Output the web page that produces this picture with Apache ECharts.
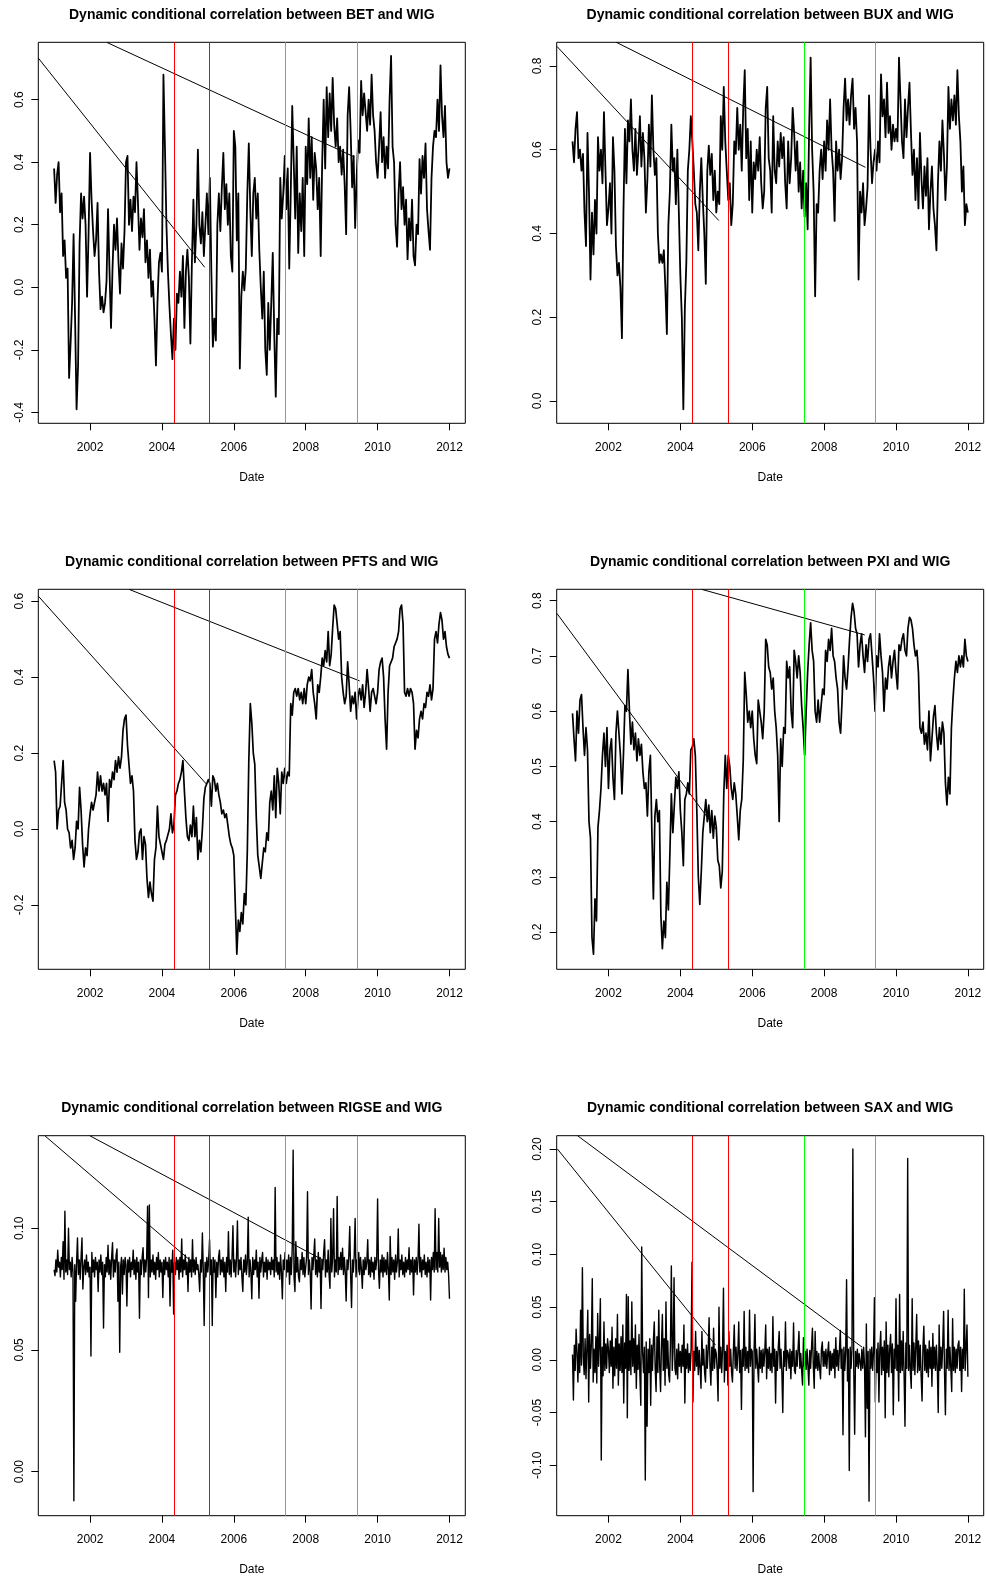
<!DOCTYPE html>
<html><head><meta charset="utf-8">
<script src="https://cdn.jsdelivr.net/npm/echarts@6/dist/echarts.min.js"></script>
<style>html,body{margin:0;padding:0;background:#fff}#c{width:986px;height:1577px}</style>
</head><body><div id="c"></div>
<script>
// ---------- DATA ----------
const xTicks = [2002, 2004, 2006, 2008, 2010, 2012];
const firstYear = 2001;
const eventDates = [2004.33, 2005.33, 2007.44, 2009.43];
const eventColors = ['#ff0000', '#ff0000', '#00ff00', '#00ff00'];

const titles = [
  'Dynamic conditional correlation between BET and WIG',
  'Dynamic conditional correlation between BUX and WIG',
  'Dynamic conditional correlation between PFTS and WIG',
  'Dynamic conditional correlation between PXI and WIG',
  'Dynamic conditional correlation between RIGSE and WIG',
  'Dynamic conditional correlation between SAX and WIG'
];

// 24 readings per year (2001..2011) + final value
const betValues = [
 0.38,0.27,0.36,0.40,0.24,0.30,0.10,0.15,0.03,0.06,-0.29,-0.18,-0.05,0.17,-0.10,-0.39,-0.25,0.14,0.30,0.22,0.29,0.20,-0.03,0.17,
 0.43,0.28,0.18,0.10,0.15,0.27,0.05,-0.07,-0.03,-0.08,-0.05,0.02,0.25,0.05,-0.13,0.06,0.20,0.12,0.22,0.08,-0.02,0.14,0.06,0.18,
 0.40,0.42,0.20,0.28,0.18,0.29,0.24,0.40,0.27,0.12,0.22,0.16,0.25,0.08,0.15,0.03,0.12,-0.03,0.02,-0.10,-0.25,-0.05,0.08,0.11,
 0.05,0.68,0.45,0.20,0.05,-0.06,-0.15,-0.23,-0.10,-0.20,-0.02,-0.05,0.05,-0.03,0.10,-0.13,0.05,0.12,0.03,-0.18,0.08,0.28,0.08,0.20,
 0.44,0.20,0.14,0.24,0.10,0.20,0.30,0.17,0.35,0.05,-0.19,-0.10,-0.17,0.20,0.30,0.18,0.32,0.43,0.25,0.33,0.20,0.30,0.10,0.05,
 0.50,0.45,0.15,0.30,-0.26,-0.03,0.05,-0.01,0.06,0.30,0.46,0.25,0.10,0.30,0.35,0.22,0.30,0.12,0.00,-0.10,0.05,-0.20,-0.28,-0.05,
 -0.20,-0.05,0.11,-0.15,-0.35,-0.10,-0.15,0.35,0.22,0.30,0.42,0.25,0.38,0.06,0.30,0.58,0.40,0.22,0.45,0.11,0.30,0.18,0.35,0.10,
 0.45,0.33,0.54,0.35,0.48,0.28,0.43,0.38,0.25,0.35,0.10,0.40,0.60,0.38,0.64,0.48,0.62,0.50,0.67,0.52,0.45,0.54,0.40,0.45,
 0.36,0.44,0.33,0.17,0.55,0.64,0.50,0.32,0.42,0.19,0.35,0.47,0.43,0.66,0.55,0.62,0.56,0.50,0.60,0.52,0.68,0.55,0.50,0.40,
 0.35,0.45,0.56,0.40,0.48,0.35,0.45,0.38,0.60,0.74,0.45,0.40,0.20,0.13,0.30,0.40,0.25,0.32,0.20,0.28,0.09,0.22,0.15,0.28,
 0.10,0.07,0.20,0.17,0.41,0.30,0.42,0.35,0.46,0.25,0.18,0.12,0.35,0.45,0.50,0.48,0.60,0.50,0.71,0.55,0.48,0.58,0.40,0.35,
 0.38
];
const buxValues = [
 0.62,0.57,0.65,0.69,0.58,0.60,0.55,0.59,0.45,0.37,0.64,0.50,0.29,0.45,0.35,0.48,0.40,0.63,0.55,0.60,0.52,0.69,0.55,0.42,
 0.46,0.52,0.40,0.63,0.55,0.37,0.30,0.33,0.27,0.15,0.45,0.65,0.52,0.67,0.62,0.72,0.60,0.55,0.65,0.54,0.60,0.68,0.56,0.64,
 0.58,0.45,0.53,0.66,0.56,0.73,0.60,0.54,0.58,0.40,0.33,0.35,0.33,0.36,0.27,0.16,0.42,0.50,0.66,0.55,0.58,0.47,0.60,0.45,
 0.30,0.20,-0.02,0.22,0.33,0.55,0.60,0.68,0.62,0.55,0.47,0.45,0.36,0.50,0.58,0.48,0.40,0.28,0.55,0.61,0.54,0.59,0.48,0.55,
 0.45,0.50,0.47,0.68,0.60,0.75,0.62,0.55,0.48,0.52,0.42,0.47,0.62,0.59,0.70,0.60,0.66,0.55,0.70,0.79,0.58,0.65,0.48,0.62,
 0.45,0.57,0.53,0.60,0.55,0.63,0.52,0.46,0.50,0.70,0.75,0.58,0.55,0.45,0.68,0.55,0.52,0.62,0.56,0.64,0.58,0.63,0.52,0.46,
 0.62,0.52,0.58,0.70,0.64,0.55,0.62,0.50,0.57,0.46,0.55,0.44,0.52,0.41,0.65,0.82,0.60,0.50,0.25,0.47,0.45,0.55,0.60,0.53,
 0.62,0.55,0.67,0.60,0.72,0.60,0.55,0.43,0.62,0.55,0.60,0.53,0.58,0.70,0.77,0.67,0.72,0.66,0.73,0.77,0.65,0.70,0.62,0.29,
 0.50,0.45,0.52,0.42,0.46,0.51,0.73,0.60,0.52,0.57,0.60,0.55,0.62,0.57,0.78,0.68,0.72,0.63,0.76,0.64,0.68,0.60,0.66,0.62,
 0.65,0.62,0.82,0.72,0.62,0.58,0.72,0.63,0.70,0.76,0.64,0.54,0.60,0.48,0.58,0.46,0.64,0.53,0.46,0.56,0.49,0.58,0.41,0.50,
 0.56,0.46,0.42,0.36,0.52,0.62,0.55,0.67,0.59,0.48,0.56,0.75,0.65,0.72,0.67,0.73,0.66,0.79,0.68,0.62,0.50,0.56,0.42,0.47,
 0.45
];
const pftsValues = [
 0.18,0.15,0.00,0.05,0.06,0.12,0.18,0.07,0.05,0.00,-0.01,-0.05,-0.03,-0.08,-0.05,0.02,0.00,0.11,0.05,-0.04,-0.10,-0.05,-0.07,0.00,
 0.04,0.07,0.05,0.07,0.09,0.15,0.10,0.14,0.10,0.12,0.09,0.12,0.02,0.13,0.11,0.15,0.13,0.18,0.15,0.19,0.16,0.19,0.26,0.29,
 0.30,0.22,0.17,0.12,0.14,0.10,-0.03,-0.08,-0.06,-0.01,0.00,-0.08,-0.02,-0.04,-0.13,-0.18,-0.14,-0.17,-0.19,-0.08,-0.05,0.06,-0.02,-0.04,
 -0.06,-0.08,-0.04,-0.03,-0.03,0.00,0.04,-0.01,0.01,0.09,0.10,0.12,0.13,0.15,0.18,0.10,0.03,-0.02,-0.03,0.01,-0.02,0.06,-0.02,0.03,
 -0.08,-0.03,-0.06,0.00,0.08,0.11,0.12,0.13,0.12,0.06,0.14,0.13,0.10,0.12,0.09,0.07,0.04,0.05,0.03,0.04,0.01,-0.02,-0.04,-0.05,
 -0.07,-0.20,-0.33,-0.24,-0.27,-0.22,-0.25,-0.17,-0.20,-0.06,0.18,0.33,0.28,0.20,0.17,0.03,-0.07,-0.10,-0.13,-0.09,-0.05,-0.06,-0.01,-0.03,
 0.07,0.10,0.05,0.14,0.03,0.16,0.12,0.04,0.15,0.12,0.16,0.12,0.15,0.14,0.33,0.30,0.36,0.37,0.35,0.37,0.34,0.36,0.33,0.37,
 0.33,0.38,0.40,0.39,0.42,0.36,0.33,0.29,0.38,0.36,0.40,0.45,0.43,0.47,0.44,0.52,0.43,0.46,0.53,0.59,0.58,0.58,0.50,0.52,
 0.40,0.36,0.33,0.35,0.44,0.38,0.31,0.35,0.33,0.36,0.29,0.35,0.37,0.34,0.38,0.32,0.36,0.42,0.37,0.31,0.36,0.37,0.35,0.33,
 0.36,0.42,0.44,0.45,0.40,0.29,0.21,0.36,0.43,0.44,0.45,0.48,0.49,0.50,0.52,0.58,0.59,0.54,0.36,0.35,0.37,0.35,0.37,0.36,
 0.33,0.21,0.26,0.24,0.29,0.31,0.29,0.33,0.32,0.36,0.35,0.38,0.34,0.37,0.50,0.52,0.49,0.54,0.57,0.55,0.50,0.52,0.48,0.46,
 0.45
];
const pxiValues = [
 0.596,0.55,0.51,0.60,0.56,0.62,0.63,0.57,0.52,0.57,0.53,0.40,0.37,0.19,0.16,0.26,0.22,0.39,0.42,0.46,0.52,0.56,0.50,0.57,
 0.46,0.53,0.55,0.48,0.44,0.56,0.60,0.60,0.52,0.45,0.52,0.61,0.60,0.675,0.60,0.54,0.58,0.53,0.56,0.51,0.55,0.52,0.54,0.49,
 0.46,0.47,0.41,0.49,0.52,0.38,0.26,0.41,0.44,0.40,0.42,0.23,0.17,0.22,0.19,0.29,0.24,0.34,0.45,0.38,0.43,0.48,0.46,0.49,
 0.42,0.38,0.32,0.44,0.45,0.47,0.45,0.53,0.535,0.55,0.52,0.42,0.30,0.25,0.31,0.38,0.41,0.44,0.40,0.43,0.38,0.42,0.37,0.41,
 0.39,0.33,0.32,0.28,0.31,0.45,0.52,0.46,0.52,0.50,0.46,0.44,0.47,0.45,0.41,0.367,0.42,0.44,0.51,0.67,0.63,0.58,0.60,0.57,
 0.60,0.55,0.52,0.505,0.62,0.60,0.58,0.55,0.60,0.73,0.72,0.68,0.67,0.64,0.66,0.60,0.57,0.52,0.40,0.55,0.50,0.57,0.56,0.69,
 0.66,0.68,0.60,0.57,0.71,0.69,0.66,0.70,0.67,0.61,0.57,0.52,0.60,0.67,0.72,0.76,0.71,0.69,0.60,0.58,0.62,0.58,0.61,0.64,
 0.63,0.71,0.69,0.73,0.71,0.75,0.70,0.69,0.66,0.64,0.58,0.56,0.62,0.70,0.66,0.64,0.68,0.73,0.77,0.795,0.78,0.75,0.74,0.68,
 0.72,0.74,0.70,0.67,0.72,0.69,0.73,0.74,0.70,0.66,0.60,0.70,0.68,0.74,0.70,0.67,0.60,0.66,0.64,0.68,0.70,0.66,0.69,0.71,
 0.67,0.64,0.72,0.71,0.73,0.74,0.71,0.70,0.75,0.77,0.765,0.75,0.72,0.70,0.71,0.67,0.57,0.56,0.58,0.54,0.56,0.53,0.60,0.51,
 0.55,0.59,0.61,0.56,0.53,0.57,0.54,0.58,0.56,0.47,0.43,0.48,0.45,0.57,0.62,0.66,0.69,0.67,0.70,0.68,0.70,0.68,0.73,0.70,
 0.69
];
// 40 readings per year (2001..2011) + final value
const rigseValues = [
 0.083,0.0805,0.087,0.082,0.091,0.084,0.086,0.080,0.088,0.083,0.0945,0.079,0.107,0.082,0.087,0.081,0.100,0.083,0.086,0.080,
 0.088,0.082,-0.012,0.085,0.070,0.086,0.096,0.081,0.087,0.079,0.088,0.096,0.075,0.084,0.087,0.081,0.089,0.082,0.086,0.080,
 0.084,0.0475,0.090,0.082,0.087,0.080,0.088,0.083,0.086,0.074,0.087,0.082,0.089,0.081,0.086,0.059,0.085,0.080,0.088,0.082,
 0.093,0.081,0.087,0.079,0.088,0.094,0.080,0.087,0.082,0.089,0.0915,0.070,0.086,0.049,0.084,0.088,0.073,0.087,0.081,0.088,
 0.085,0.068,0.087,0.082,0.088,0.080,0.086,0.083,0.091,0.081,0.087,0.079,0.088,0.082,0.086,0.063,0.087,0.081,0.088,0.092,
 0.080,0.087,0.082,0.088,0.109,0.0715,0.1096,0.080,0.087,0.082,0.089,0.081,0.086,0.079,0.088,0.083,0.090,0.080,0.087,0.082,
 0.086,0.0715,0.087,0.081,0.088,0.083,0.086,0.080,0.088,0.068,0.087,0.082,0.091,0.0647,0.086,0.081,0.088,0.083,0.087,0.079,
 0.088,0.082,0.0956,0.080,0.087,0.083,0.089,0.081,0.086,0.074,0.088,0.082,0.087,0.080,0.0953,0.082,0.087,0.081,0.088,0.083,
 0.085,0.081,0.074,0.087,0.082,0.098,0.083,0.060,0.086,0.080,0.088,0.082,0.087,0.0953,0.081,0.087,0.060,0.088,0.082,0.087,
 0.0715,0.086,0.080,0.088,0.091,0.081,0.087,0.082,0.088,0.080,0.086,0.074,0.088,0.082,0.0986,0.081,0.087,0.080,0.088,0.101,
 0.082,0.087,0.080,0.088,0.103,0.081,0.087,0.083,0.088,0.080,0.074,0.087,0.082,0.089,0.081,0.086,0.1045,0.080,0.087,0.082,
 0.071,0.088,0.081,0.087,0.083,0.091,0.080,0.086,0.0712,0.088,0.082,0.087,0.090,0.080,0.086,0.082,0.088,0.079,0.087,0.083,
 0.086,0.081,0.088,0.083,0.087,0.080,0.1167,0.082,0.088,0.081,0.086,0.079,0.089,0.082,0.071,0.087,0.083,0.090,0.080,0.087,
 0.082,0.089,0.077,0.088,0.081,0.092,0.132,0.080,0.074,0.0945,0.082,0.088,0.080,0.078,0.087,0.083,0.090,0.081,0.088,0.080,
 0.084,0.088,0.115,0.081,0.087,0.082,0.0668,0.088,0.083,0.089,0.0956,0.081,0.087,0.080,0.090,0.082,0.088,0.067,0.087,0.083,
 0.090,0.0953,0.080,0.087,0.082,0.091,0.081,0.0753,0.104,0.082,0.088,0.108,0.080,0.087,0.082,0.113,0.081,0.088,0.083,0.090,
 0.083,0.0918,0.081,0.088,0.082,0.0701,0.087,0.083,0.089,0.1007,0.081,0.0674,0.087,0.082,0.089,0.104,0.080,0.087,0.082,0.090,
 0.081,0.088,0.083,0.0753,0.087,0.081,0.088,0.083,0.086,0.0953,0.081,0.087,0.080,0.088,0.082,0.086,0.079,0.088,0.083,0.087,
 0.112,0.083,0.0753,0.087,0.082,0.089,0.080,0.088,0.082,0.087,0.081,0.090,0.083,0.0705,0.0966,0.081,0.088,0.082,0.087,0.079,
 0.089,0.082,0.086,0.0997,0.080,0.087,0.083,0.089,0.081,0.086,0.080,0.088,0.082,0.087,0.083,0.092,0.081,0.087,0.082,0.088,
 0.0726,0.087,0.082,0.088,0.081,0.087,0.1016,0.082,0.088,0.080,0.087,0.083,0.089,0.081,0.086,0.080,0.088,0.082,0.087,0.0705,
 0.088,0.083,0.090,0.082,0.108,0.083,0.090,0.082,0.104,0.084,0.090,0.082,0.089,0.083,0.0918,0.082,0.088,0.083,0.086,0.081,
 0.071
];
const saxValues = [
 0.005,-0.038,0.014,-0.010,0.029,0.008,-0.021,0.015,-0.012,0.047,-0.005,0.0875,0.003,-0.014,0.020,-0.018,0.012,0.047,-0.040,0.024,
 -0.008,0.016,0.077,-0.021,0.010,-0.012,0.022,-0.022,0.044,-0.006,0.018,0.058,-0.095,0.012,-0.015,0.036,-0.010,0.015,-0.008,0.020,
 0.010,-0.012,0.018,-0.006,0.031,-0.027,0.012,-0.015,0.020,-0.008,0.043,-0.024,0.015,-0.010,0.022,-0.012,0.033,-0.041,0.016,-0.008,
 0.062,-0.055,0.060,-0.010,0.018,-0.014,0.055,-0.006,0.020,-0.012,0.033,-0.027,0.014,-0.009,0.024,-0.015,-0.043,0.107,0.008,-0.012,
 0.012,-0.114,0.017,-0.063,0.010,-0.012,0.020,-0.043,0.014,-0.010,0.018,0.036,-0.008,-0.030,0.022,-0.012,0.047,-0.006,-0.030,0.015,
 0.043,-0.010,0.020,-0.024,0.055,-0.008,0.018,-0.014,-0.021,0.016,0.089,-0.010,0.012,0.078,-0.008,-0.014,0.010,-0.018,0.015,-0.006,
 0.008,-0.012,0.014,-0.006,0.033,-0.041,0.010,-0.008,0.015,-0.012,0.006,-0.010,0.012,0.0926,-0.040,0.008,-0.010,0.027,-0.006,0.012,
 -0.014,0.009,-0.008,-0.027,0.027,-0.005,0.010,-0.012,-0.021,0.014,-0.008,0.010,0.040,-0.006,-0.024,0.012,-0.010,0.030,-0.008,0.010,
 0.006,-0.010,-0.039,0.050,-0.008,0.012,-0.012,0.010,0.068,-0.021,0.008,-0.010,0.014,-0.024,0.027,-0.006,0.010,-0.012,-0.021,0.008,
 0.033,-0.008,0.012,-0.010,0.006,0.036,-0.012,0.009,-0.047,0.010,-0.006,0.046,-0.010,0.012,-0.008,0.008,-0.012,0.047,-0.006,0.010,
 0.008,-0.125,0.006,0.043,-0.008,0.010,-0.006,-0.021,0.012,-0.008,0.009,-0.012,0.010,-0.006,0.008,0.033,-0.018,0.010,-0.008,0.012,
 -0.010,0.006,-0.012,0.041,-0.006,0.010,-0.041,0.008,-0.010,0.012,0.027,-0.008,0.010,-0.012,-0.050,0.008,-0.006,0.036,-0.010,0.009,
 0.006,-0.008,0.010,-0.018,0.008,-0.006,0.035,-0.010,-0.013,0.009,-0.006,0.010,0.027,-0.008,0.006,-0.010,-0.024,0.021,-0.006,0.008,
 -0.009,0.010,-0.006,-0.024,0.009,-0.008,0.012,0.030,-0.006,-0.027,0.027,-0.008,0.008,-0.010,0.006,-0.008,-0.018,0.010,0.017,-0.006,
 0.008,-0.006,0.010,-0.008,0.006,0.017,-0.014,0.008,-0.010,0.006,-0.008,0.010,-0.017,0.021,-0.006,0.009,-0.010,0.008,0.028,-0.008,
 0.010,-0.071,0.012,-0.010,0.008,0.076,-0.020,0.010,-0.105,0.012,-0.008,0.010,0.200,-0.010,-0.0705,0.008,-0.006,0.010,-0.008,0.006,
 0.006,-0.010,0.010,-0.008,0.012,-0.006,-0.073,0.034,-0.046,0.008,-0.134,0.010,-0.008,0.012,-0.010,0.008,0.059,-0.040,0.010,-0.012,
 0.016,-0.040,0.010,0.027,-0.014,0.012,-0.010,0.018,-0.055,0.036,-0.012,0.014,-0.016,0.010,0.024,-0.012,0.015,-0.052,0.010,-0.008,
 0.058,-0.010,0.014,-0.039,0.062,-0.012,0.018,-0.010,0.027,-0.014,-0.063,0.016,-0.008,0.191,-0.010,0.014,-0.012,-0.027,0.058,-0.010,
 0.016,-0.014,0.012,0.043,-0.012,0.018,-0.010,0.014,-0.016,-0.039,0.012,0.032,-0.010,0.014,-0.012,0.010,-0.016,0.018,-0.008,0.012,
 -0.025,0.025,-0.008,0.012,-0.010,0.014,-0.008,-0.050,0.033,-0.010,0.012,-0.008,0.014,0.046,-0.012,-0.052,0.010,-0.008,0.047,-0.010,
 0.012,-0.008,-0.030,0.039,-0.010,0.012,-0.012,0.010,-0.008,0.014,0.018,-0.010,0.012,-0.030,0.010,-0.008,0.067,-0.010,0.012,0.033,
 -0.016
];

// straight connector segments that appear in the original plot (date, value)
const betConnectors  = [[[2000.56, 0.733], [2005.19, 0.064]], [[2002.47, 0.783], [2009.35, 0.417]]];
const buxConnectors  = [[[2000.565, 0.847], [2005.07, 0.431]], [[2002.21, 0.857], [2009.15, 0.558]]];
const pftsConnectors = [[[2000.565, 0.613], [2005.24, 0.118]], [[2003.09, 0.631], [2009.50, 0.390]]];
const pxiConnectors  = [[[2000.565, 0.777], [2005.01, 0.385]], [[2004.59, 0.8206], [2009.13, 0.738]]];
const rigseConnectors= [[[2000.74, 0.138], [2004.77, 0.087]], [[2001.99, 0.138], [2008.47, 0.087]]];
const saxConnectors  = [[[2000.58, 0.200], [2004.98, 0.014]], [[2001.14, 0.2126], [2009.06, 0.012]]];

const betYTicks   = [-0.4, -0.2, 0, 0.2, 0.4, 0.6];
const buxYTicks   = [0, 0.2, 0.4, 0.6, 0.8];
const pftsYTicks  = [-0.2, 0, 0.2, 0.4, 0.6];
const pxiYTicks   = [0.2, 0.3, 0.4, 0.5, 0.6, 0.7, 0.8];
const rigseYTicks = [0, 0.05, 0.10];
const saxYTicks   = [-0.10, -0.05, 0, 0.05, 0.10, 0.15, 0.20];

const panels = [
  {values: betValues,   perYear: 24, conn: betConnectors,   yTicks: betYTicks,   dec: 1, yMin: -0.435, yMax: 0.7835},
  {values: buxValues,   perYear: 24, conn: buxConnectors,   yTicks: buxYTicks,   dec: 1, yMin: -0.0533, yMax: 0.8566},
  {values: pftsValues,  perYear: 24, conn: pftsConnectors,  yTicks: pftsYTicks,  dec: 1, yMin: -0.3696, yMax: 0.6314},
  {values: pxiValues,   perYear: 24, conn: pxiConnectors,   yTicks: pxiYTicks,   dec: 1, yMin: 0.1325, yMax: 0.8206},
  {values: rigseValues, perYear: 40, conn: rigseConnectors, yTicks: rigseYTicks, dec: 2, yMin: -0.0181, yMax: 0.1380},
  {values: saxValues,   perYear: 40, conn: saxConnectors,   yTicks: saxYTicks,   dec: 2, yMin: -0.1478, yMax: 0.2126}
];
const xMin = 2000.56, xMax = 2012.44;

// ---------- LAYOUT ----------
const colLeft = [38.3, 556.7];
const rowTop = [42.3, 589.3, 1135.7];
const rowH = [381, 380, 380];
const gridW = 427;
const lineW = [1.8, 1.8, 1.7, 1.7, 1.4, 1.4];
const FONT = '"Liberation Sans", Arial, Helvetica, sans-serif';

const grids = [], xAxes = [], yAxes = [], series = [], graphics = [];
panels.forEach((p, k) => {
  const c = k % 2, r = Math.floor(k / 2);
  const left = colLeft[c], top = rowTop[r], h = rowH[r];
  grids.push({left, top, width: gridW, height: h, show: true, borderColor: '#000', borderWidth: 1,
    backgroundColor: 'transparent', containLabel: false, outerBoundsMode: 'none'});
  xAxes.push({type: 'value', gridIndex: k, min: xMin, max: xMax, position: 'bottom',
    axisLine: {show: false, onZero: false}, splitLine: {show: false},
    axisTick: {show: true, customValues: xTicks, length: 7, lineStyle: {color: '#000', width: 1}},
    axisLabel: {show: true, customValues: xTicks, formatter: v => String(v), margin: 18,
      fontSize: 12, color: '#000', fontFamily: FONT}});
  yAxes.push({type: 'value', gridIndex: k, min: p.yMin, max: p.yMax, position: 'left',
    axisLine: {show: false, onZero: false}, splitLine: {show: false},
    axisTick: {show: true, customValues: p.yTicks, length: 7, lineStyle: {color: '#000', width: 1}},
    axisLabel: {show: true, customValues: p.yTicks, rotate: 90, margin: 13,
      formatter: v => Number(v).toFixed(p.dec), fontSize: 12, color: '#000', fontFamily: FONT}});
  const data = p.values.map((v, i) => [firstYear + i / p.perYear, v]);
  series.push({type: 'line', xAxisIndex: k, yAxisIndex: k, data, showSymbol: false, symbol: 'none',
    animation: false, silent: true, clip: true, z: 2,
    lineStyle: {color: '#000', width: lineW[k], join: 'round'},
    markLine: {silent: true, symbol: ['none', 'none'], animation: false, label: {show: false},
      data: eventDates.map((d, j) => ({xAxis: d, lineStyle: {color: eventColors[j], width: 1, type: 'solid'}}))}
  });
  p.conn.forEach(seg => {
    series.push({type: 'line', xAxisIndex: k, yAxisIndex: k, data: seg, showSymbol: false, symbol: 'none',
      animation: false, silent: true, clip: true, z: 2, lineStyle: {color: '#000', width: 1}});
  });
  const cx = left + gridW / 2;
  graphics.push({type: 'text', x: cx, y: top - 27.5, silent: true,
    style: {text: titles[k], fontSize: 14, fontWeight: 'bold', fontFamily: FONT, fill: '#000',
      align: 'center', verticalAlign: 'middle', textAlign: 'center', textVerticalAlign: 'middle'}});
  graphics.push({type: 'text', x: cx, y: top + h + 54, silent: true,
    style: {text: 'Date', fontSize: 12, fontFamily: FONT, fill: '#000',
      align: 'center', verticalAlign: 'middle', textAlign: 'center', textVerticalAlign: 'middle'}});
});

const chart = echarts.init(document.getElementById('c'), null, {renderer: 'canvas'});
chart.setOption({
  animation: false,
  backgroundColor: '#ffffff',
  grid: grids, xAxis: xAxes, yAxis: yAxes, series, graphic: graphics
});
</script>
</body></html>
